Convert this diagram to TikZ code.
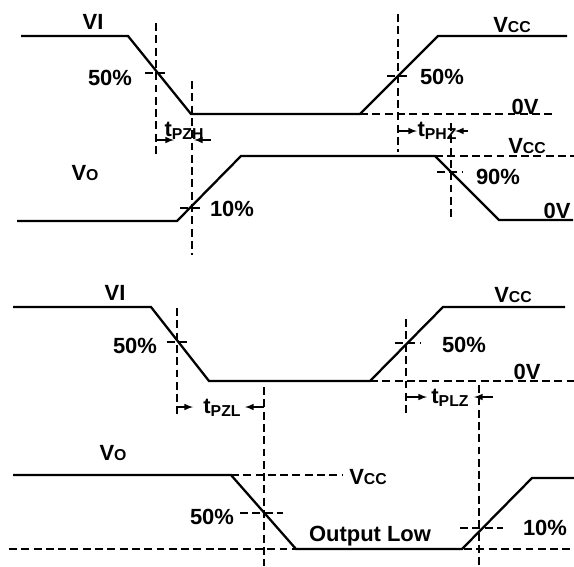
\documentclass[tikz,border=0pt]{standalone}
\usepackage{fontspec}
\setmainfont{Liberation Sans}
\usetikzlibrary{arrows}

\newcommand{\smallcaps}[1]{{\fontsize{9}{10}\selectfont #1}}
\newcommand{\tdelay}[1]{t\lower2pt\hbox{\fontsize{9}{10}\selectfont #1}}

\tikzset{
	wave/.style={line width=1.3pt, line join=miter},
	guide/.style={line width=0.7pt, dash pattern=on 4.5pt off 2.5pt},
	lbl/.style={font=\fontsize{12.5}{15}\selectfont\bfseries, inner sep=0pt},
	tarrow/.style={-latex, line width=0.7pt},
}

\begin{document}
\begin{tikzpicture}[x=0.02cm, y=-0.02cm]
		\useasboundingbox (0,0) rectangle (574,566);

		% ---------------- output enable, high level ----------------
		% input VI
		\draw [wave] (21,36) -- (128,36) -- (191,114) -- (360,114) -- (438,36) -- (567,36);
		\node [lbl] (vi1) at (93,22) {VI};
		\node [lbl] (vcc1) at (512,25) {V\smallcaps{CC}};

		% output VO
		\draw [wave] (17,221) -- (177,221) -- (241,156) -- (435,156) -- (499,220) -- (573,220);
		\node [lbl] (vo1) at (85,173) {V\smallcaps{O}};

		% guide lines
		\draw [guide] (156,23) -- (156,155);
		\draw [guide] (192,81) -- (192,255);
		\draw [guide] (398,14) -- (398,152);
		\draw [guide] (451,123) -- (451,218);
		\draw [guide] (360,114) -- (553,114);
		\draw [guide] (435,156) -- (574,156);

		% level marks
		\draw [guide] (145,73) -- (166,73);
		\node [lbl] (p50a) at (110,78) {50\%};
		\draw [guide] (180,208) -- (202,208);
		\node [lbl] (p10a) at (232,209) {10\%};
		\draw [guide] (387,76) -- (410,76);
		\node [lbl] (p50b) at (442,77) {50\%};
		\draw [guide] (437,172) -- (463,172);
		\node [lbl] (p90a) at (498,177) {90\%};
		\node [lbl] (zero1) at (525,107) {0V};
		\node [lbl] (vcc2) at (527,146) {V\smallcaps{CC}};
		\node [lbl] (zero2) at (557,211) {0V};

		% delays
		\node [lbl] (tpzh) at (184,131) {\tdelay{PZH}};
		\coordinate (tpzh-a) at (156,140);
		\coordinate (tpzh-b) at (211,140);
		\draw [tarrow] (tpzh-a) -- (174,140);
		\draw [tarrow] (tpzh-b) -- (194,140);

		\node [lbl] (tphz) at (437,131) {\tdelay{PHZ}};
		\coordinate (tphz-a) at (398,131);
		\coordinate (tphz-b) at (468,131);
		\draw [tarrow] (tphz-a) -- (417,131);
		\draw [tarrow] (tphz-b) -- (455,131);

		% ---------------- output enable, low level ----------------
		% input VI
		\draw [wave] (13,307) -- (151,307) -- (209,381) -- (370,381) -- (443,307) -- (565,307);
		\node [lbl] (vi2) at (115,293) {VI};
		\node [lbl] (vcc3) at (513,295) {V\smallcaps{CC}};

		% output VO
		\draw [wave] (13,475) -- (231,475) -- (296,549) -- (462,549) -- (532,478) -- (574,478);
		\node [lbl] (vo2) at (113,453) {V\smallcaps{O}};
		\node [lbl] (outlow) at (370,536) {Output Low};

		% guide lines
		\draw [guide] (177,308) -- (177,417);
		\draw [guide] (264,387) -- (264,566);
		\draw [guide] (406,319) -- (406,415);
		\draw [guide] (479,385) -- (479,566);
		\draw [guide] (370,381) -- (574,381);
		\draw [guide] (231,475) -- (342,475);
		\draw [guide] (9,549) -- (574,549);

		% level marks
		\draw [guide] (167,342) -- (187,342);
		\node [lbl] (p50c) at (135,346) {50\%};
		\draw [guide] (395,343) -- (420,343);
		\node [lbl] (p50d) at (464,345) {50\%};
		\node [lbl] (zero3) at (527,372) {0V};
		\node [lbl] (vcc4) at (368,477) {V\smallcaps{CC}};
		\draw [guide] (240,513) -- (283,513);
		\node [lbl] (p50e) at (212,517) {50\%};
		\draw [guide] (460,528) -- (503,528);
		\node [lbl] (p10b) at (545,528) {10\%};

		% delays
		\node [lbl] (tpzl) at (222,408) {\tdelay{PZL}};
		\coordinate (tpzl-a) at (177,407);
		\coordinate (tpzl-b) at (264,407);
		\draw [tarrow] (tpzl-a) -- (193,407);
		\draw [tarrow] (tpzl-b) -- (245,407);

		\node [lbl] (tplz) at (450,398) {\tdelay{PLZ}};
		\coordinate (tplz-a) at (406,397);
		\coordinate (tplz-b) at (493,397);
		\draw [tarrow] (tplz-a) -- (427,397);
		\draw [tarrow] (tplz-b) -- (474,397);
	\end{tikzpicture}
\end{document}
